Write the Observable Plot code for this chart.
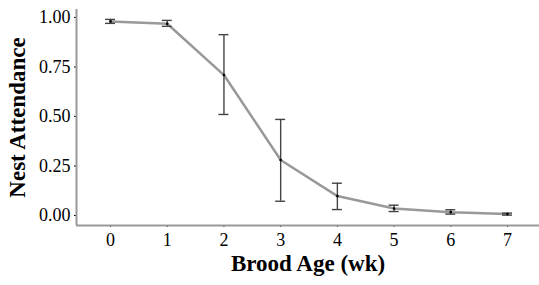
<!DOCTYPE html>
<html><head><meta charset="utf-8">
<script src="https://cdn.jsdelivr.net/npm/d3@7"></script>
<script src="https://cdn.jsdelivr.net/npm/@observablehq/plot@0.6"></script>
<style>
body{margin:0;background:#fff}
#chart svg text{font-family:"Liberation Serif","Times New Roman",serif}
</style>
</head><body><div id="chart"></div>
<script>
const ages = [0, 1, 2, 3, 4, 5, 6, 7];
const attendance = [0.980, 0.968, 0.709, 0.280, 0.098, 0.035, 0.017, 0.007];
const lower = [0.970, 0.955, 0.510, 0.072, 0.030, 0.020, 0.007, 0.002];
const upper = [0.990, 0.985, 0.913, 0.485, 0.163, 0.052, 0.029, 0.012];
const yTicks = [0, 0.25, 0.5, 0.75, 1];

const data = ages.map((a, i) => ({age: a, v: attendance[i], lo: lower[i], hi: upper[i]}));
const xDom = [-0.6, 7.564], yDom = [-0.0505, 1.04];
const capHalf = 0.088;
const font = "Liberation Serif, Times New Roman, serif";

const plot = Plot.plot({
  width: 539, height: 285,
  marginLeft: 76, marginRight: 0, marginTop: 9, marginBottom: 60,
  style: {fontFamily: font, fontSize: "18px", color: "#000", background: "#fff"},
  x: {type: "linear", domain: xDom, ticks: ages, tickFormat: d3.format("d"), tickSize: 2, tickPadding: 6, label: null},
  y: {type: "linear", domain: yDom, ticks: yTicks, tickFormat: d3.format(".2f"), tickSize: 2, tickPadding: 4, label: null},
  marks: [
    Plot.ruleX([xDom[0]], {stroke: "#999", strokeWidth: 2}),
    Plot.ruleY([yDom[0]], {stroke: "#999", strokeWidth: 2}),
    Plot.line(data, {x: "age", y: "v", stroke: "#999", strokeWidth: 2.5, curve: "linear", strokeLinejoin: "round"}),
    Plot.ruleX(data, {x: "age", y1: "lo", y2: "hi", stroke: "#444", strokeWidth: 1.4}),
    Plot.ruleY(data, {y: "lo", x1: d => d.age - capHalf, x2: d => d.age + capHalf, stroke: "#444", strokeWidth: 1.4}),
    Plot.ruleY(data, {y: "hi", x1: d => d.age - capHalf, x2: d => d.age + capHalf, stroke: "#444", strokeWidth: 1.4}),
    Plot.dot(data, {x: "age", y: "v", r: 1.3, fill: "#000"}),
    Plot.text(["Nest Attendance"], {frameAnchor: "left", textAnchor: "middle", dx: -59, rotate: -90, fontSize: 23, fontWeight: "bold", fill: "#000"}),
    Plot.text(["Brood Age (wk)"], {frameAnchor: "bottom", textAnchor: "middle", dy: 45, fontSize: 23, fontWeight: "bold", fill: "#000"})
  ]
});
document.getElementById("chart").appendChild(plot);
</script></body></html>
